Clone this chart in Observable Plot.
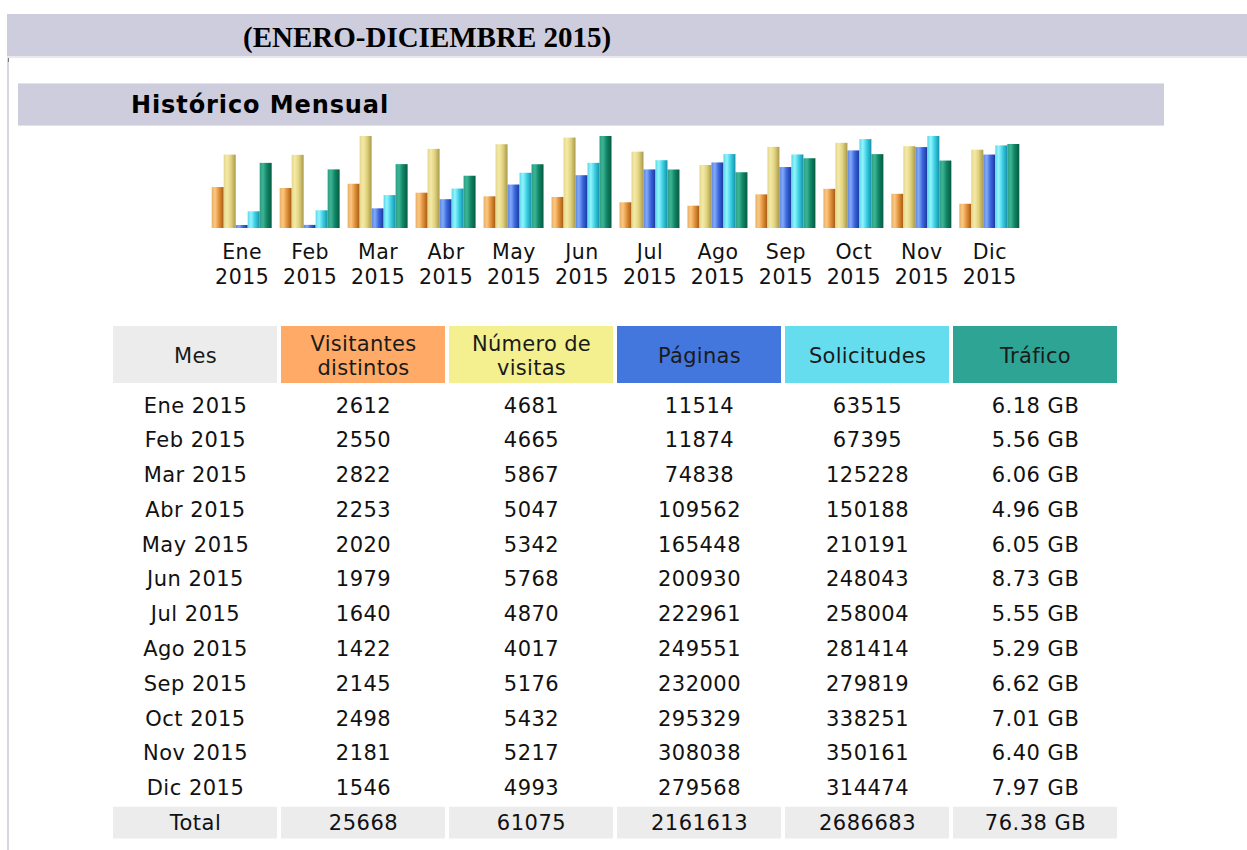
<!DOCTYPE html>
<html><head><meta charset="utf-8">
<script src="https://cdn.jsdelivr.net/npm/d3@7"></script>
<script src="https://cdn.jsdelivr.net/npm/@observablehq/plot@0.6"></script>
<style>
html,body{margin:0;padding:0;background:#fff;width:1247px;height:850px;overflow:hidden;position:relative}
.abs{position:absolute}
#band1{left:7px;top:14px;width:1240px;height:42px;background:#cdcddd;border-bottom:2px solid #e8e8ee}
#title{left:243px;top:16px;height:42px;line-height:42px;font-family:"Liberation Serif",serif;font-weight:bold;font-size:29px;color:#000;white-space:nowrap}
#vline{left:7px;top:58px;width:2px;height:792px;background:#d6d6de}
#vtick{left:8px;top:58px;width:1px;height:4px;background:#777}
#band2{left:18px;top:83px;width:1146px;height:41px;background:#cdcddd;border-top:1px solid #e2e2ea;border-bottom:1px solid #e2e2ea}
#sub{left:131px;top:84px;height:42px;line-height:42px;font-family:"DejaVu Sans",sans-serif;font-weight:bold;font-size:24px;letter-spacing:0.9px;color:#000;white-space:nowrap}
#bars{left:0;top:126px}
#thead{left:0;top:326px}
#tbody{left:0;top:388px}
</style>
</head>
<body>
<div id="band1" class="abs"></div>
<div id="title" class="abs">(ENERO-DICIEMBRE 2015)</div>
<div id="vline" class="abs"></div>
<div id="vtick" class="abs"></div>
<div id="band2" class="abs"></div>
<div id="sub" class="abs">Histórico Mensual</div>
<div id="bars" class="abs"></div>
<div id="thead" class="abs"></div>
<div id="tbody" class="abs"></div>
<script>
// ---- data ----
const months = ["Ene","Feb","Mar","Abr","May","Jun","Jul","Ago","Sep","Oct","Nov","Dic"];
const year = "2015";
const visitors = [2612,2550,2822,2253,2020,1979,1640,1422,2145,2498,2181,1546];
const visits = [4681,4665,5867,5047,5342,5768,4870,4017,5176,5432,5217,4993];
const pages = [11514,11874,74838,109562,165448,200930,222961,249551,232000,295329,308038,279568];
const hits = [63515,67395,125228,150188,210191,248043,258004,281414,279819,338251,350161,314474];
const trafficGB = [6.18,5.56,6.06,4.96,6.05,8.73,5.55,5.29,6.62,7.01,6.40,7.97];
const totalLabel = "Total";
const totals = ["25668","61075","2161613","2686683","76.38 GB"];
const headers = ["Mes","Visitantes\ndistintos","Número de\nvisitas","Páginas","Solicitudes","Tráfico"];

// ---- styles ----
const headerColors = ["#ececec","#ffaa66","#f4f090","#4477dd","#66ddee","#2ea495"];
const metricKeys = ["u","v","p","h","k"];
const grads = {
  u: [[0,"#eeae5e"],[0.28,"#f8c886"],[0.6,"#e2923a"],[1,"#a65a12"]],
  v: [[0,"#e4d68a"],[0.28,"#f4eaa8"],[0.6,"#e0d27e"],[1,"#aa9a4c"]],
  p: [[0,"#5a88e4"],[0.28,"#84a8f6"],[0.6,"#3a68dc"],[1,"#1a36a0"]],
  h: [[0,"#58d8ea"],[0.28,"#94f4fc"],[0.6,"#3cd0e4"],[1,"#1690aa"]],
  k: [[0,"#2a9e80"],[0.28,"#3eb496"],[0.6,"#108666"],[1,"#065a40"]]
};
const FONT = "DejaVu Sans";

// ---- bar chart ----
const maxUV = d3.max(visits.concat(visitors));
const maxPH = d3.max(hits.concat(pages));
const maxK = d3.max(trafficGB);
const series = {u: visitors.map(v => v / maxUV), v: visits.map(v => v / maxUV),
                p: pages.map(v => v / maxPH), h: hits.map(v => v / maxPH), k: trafficGB.map(v => v / maxK)};
const barData = months.flatMap((m, i) => metricKeys.map(k => ({month: m, metric: k, h: series[k][i]})));

const barPlot = Plot.plot({
  width: 1247, height: 170,
  marginLeft: 211.7, marginRight: 227.7, marginTop: 10, marginBottom: 68,
  style: {background: "transparent", letterSpacing: "0.5px"},
  fx: {domain: months, paddingInner: 8/68, paddingOuter: 0, round: false, axis: null, label: null},
  x: {domain: metricKeys, padding: 0, round: false, axis: null},
  y: {domain: [0, 1], axis: null},
  marks: [
    ...metricKeys.map(k => Plot.barY(barData.filter(d => d.metric === k), {fx: "month", x: "metric", y: "h", fill: `url(#g-${k})`})),
    Plot.text(months, {fx: d => d, text: d => d, frameAnchor: "bottom", lineAnchor: "bottom", dy: 30, fontSize: 20.5, fontFamily: FONT, fill: "#111"}),
    Plot.text(months, {fx: d => d, text: () => year, frameAnchor: "bottom", lineAnchor: "bottom", dy: 55, fontSize: 20.5, fontFamily: FONT, fill: "#111"})
  ]
});
const defs = d3.select(barPlot).insert("defs", ":first-child");
for (const [k, stops] of Object.entries(grads)) {
  const g = defs.append("linearGradient").attr("id", "g-" + k).attr("x1", 0).attr("x2", 1).attr("y1", 0).attr("y2", 0);
  stops.forEach(([o, c]) => g.append("stop").attr("offset", o).attr("stop-color", c));
}
document.getElementById("bars").appendChild(barPlot);

// ---- table ----
const xScale = {domain: headers, paddingInner: 4/168, paddingOuter: 0, round: false, axis: null};
const headPlot = Plot.plot({
  width: 1247, height: 57,
  marginLeft: 113, marginRight: 130, marginTop: 0, marginBottom: 0,
  style: {background: "transparent", letterSpacing: "0.3px"},
  x: xScale,
  color: {type: "identity"},
  marks: [
    Plot.cell(headers, {x: d => d, fill: (d, i) => headerColors[i]}),
    Plot.text(headers, {x: d => d, text: d => d, frameAnchor: "middle", fontSize: 21, lineHeight: 1.17, fontFamily: FONT, fill: "#1a1a1a"})
  ]
});
document.getElementById("thead").appendChild(headPlot);

const rowKeys = [...months.map(m => `${m} ${year}`), totalLabel];
const cells = [];
months.forEach((m, i) => {
  const vals = [`${m} ${year}`, visitors[i], visits[i], pages[i], hits[i], `${trafficGB[i].toFixed(2)} GB`];
  vals.forEach((v, j) => cells.push({row: rowKeys[i], col: headers[j], text: String(v)}));
});
[totalLabel, ...totals].forEach((v, j) => cells.push({row: totalLabel, col: headers[j], text: v}));

const bodyPlot = Plot.plot({
  width: 1247, height: 452,
  marginLeft: 113, marginRight: 130, marginTop: 0, marginBottom: 0,
  style: {background: "transparent", letterSpacing: "0.5px"},
  x: xScale,
  y: {domain: rowKeys, padding: 0, round: false, axis: null},
  marks: [
    Plot.cell(cells.filter(d => d.row === totalLabel), {x: "col", y: "row", fill: "#ececec", insetTop: 1.5, insetBottom: 1.5}),
    Plot.text(cells, {x: "col", y: "row", text: "text", fontSize: 21, fontFamily: FONT, fill: "#111"})
  ]
});
document.getElementById("tbody").appendChild(bodyPlot);
</script>
</body></html>
